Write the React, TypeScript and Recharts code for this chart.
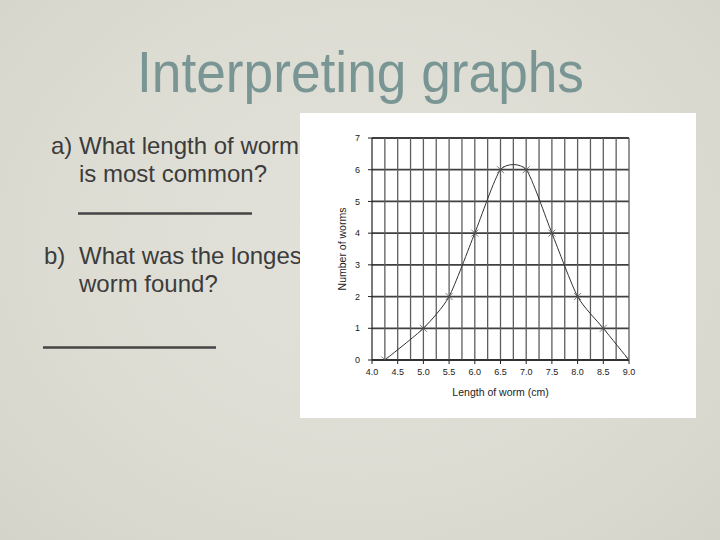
import React from 'react';
import { LineChart, Line, XAxis, YAxis, CartesianGrid, ReferenceLine, Label } from 'recharts';

const lengths = [4.25, 5.0, 5.5, 6.0, 6.5, 7.0, 7.5, 8.0, 8.5, 9.0];
const counts = [0, 1, 2, 4, 6, 6, 4, 2, 1, 0];
const xTicks = [4.0, 4.5, 5.0, 5.5, 6.0, 6.5, 7.0, 7.5, 8.0, 8.5, 9.0];
const yTicks = [0, 1, 2, 3, 4, 5, 6, 7];
const gridX = [4.25, 4.5, 4.75, 5.0, 5.25, 5.5, 5.75, 6.0, 6.25, 6.5, 6.75, 7.0, 7.25, 7.5, 7.75, 8.0, 8.25, 8.5, 8.75, 9.0];

const data = lengths.map((l, i) => ({ length: l, count: counts[i] }));

function makeCardinal(tension: number) {
  const k = (1 - tension) / 6;
  return function (context: any) {
    let pts: number[][] = [];
    return {
      areaStart() {},
      areaEnd() {},
      lineStart() {
        pts = [];
      },
      lineEnd() {
        const n = pts.length;
        if (n === 0) return;
        context.moveTo(pts[0][0], pts[0][1]);
        for (let i = 0; i < n - 1; i++) {
          const p0 = pts[Math.max(i - 1, 0)];
          const p1 = pts[i];
          const p2 = pts[i + 1];
          const p3 = pts[Math.min(i + 2, n - 1)];
          context.bezierCurveTo(
            p1[0] + k * (p2[0] - p0[0]),
            p1[1] + k * (p2[1] - p0[1]),
            p2[0] - k * (p3[0] - p1[0]),
            p2[1] - k * (p3[1] - p1[1]),
            p2[0],
            p2[1]
          );
        }
      },
      point(x: number, y: number) {
        pts.push([+x, +y]);
      },
    };
  };
}

const smoothCurve = makeCardinal(0.35);

const CrossDot = (props: any) => {
  const { cx, cy, index } = props;
  if (cx == null || cy == null) return null;
  const s = 3.5;
  return (
    <g key={`dot-${index}`}>
      <line x1={cx - s} y1={cy - s} x2={cx + s} y2={cy + s} stroke="#555" strokeWidth={0.8} />
      <line x1={cx - s} y1={cy + s} x2={cx + s} y2={cy - s} stroke="#555" strokeWidth={0.8} />
    </g>
  );
};

const FONT = '"Liberation Sans", Arial, Helvetica, sans-serif';
const TEXT = '#3c3c3c';

export default function App() {
  return (
    <div
      style={{
        position: 'absolute',
        left: 0,
        top: 0,
        width: 720,
        height: 540,
        overflow: 'hidden',
        background: 'radial-gradient(ellipse at 50% 45%, #e3e2da 0%, #dddcd3 60%, #d5d4ca 100%)',
        fontFamily: FONT,
      }}
    >
      <svg width={720} height={540} style={{ position: 'absolute', left: 0, top: 0 }}>
        <text
          x={137}
          y={91.5}
          fontSize={57}
          fill="#7a9694"
          fontFamily={FONT}
          textLength={447}
          lengthAdjust="spacingAndGlyphs"
        >
          Interpreting graphs
        </text>
        <g fontFamily={FONT} fontSize={24} fill={TEXT}>
          <text x={51} y={154}>a)</text>
          <text x={79} y={154}>What length of worm</text>
          <text x={79} y={182}>is most common?</text>
          <text x={44} y={264}>b)</text>
          <text x={79} y={264}>What was the longest</text>
          <text x={79} y={292}>worm found?</text>
        </g>
        <line x1={78} y1={213.5} x2={252} y2={213.5} stroke="#454545" strokeWidth={2.5} />
        <line x1={43} y1={347.5} x2={216} y2={347.5} stroke="#454545" strokeWidth={2.5} />
      </svg>
      <div
        style={{
          position: 'absolute',
          left: 300,
          top: 113,
          width: 396,
          height: 305,
          background: '#ffffff',
        }}
      >
        <LineChart width={396} height={305} data={data} margin={{ top: 25, right: 67, bottom: 0, left: 0 }}>
          <CartesianGrid vertical={false} stroke="#404040" strokeWidth={1.8} />
          {gridX.map((gx) => (
            <ReferenceLine key={gx} x={gx} stroke="#5e5e5e" strokeWidth={1.3} />
          ))}
          <XAxis
            type="number"
            dataKey="length"
            domain={[4, 9]}
            ticks={xTicks}
            allowDataOverflow
            tickFormatter={(v: number) => v.toFixed(1)}
            tick={{ fontSize: 9, fill: '#222', fontFamily: FONT }}
            axisLine={{ stroke: '#222', strokeWidth: 1.2 }}
            tickLine={{ stroke: '#222' }}
            tickSize={4}
            tickMargin={5}
            height={58}
          >
            <Label
              content={(p: any) => {
                const vb = p.viewBox || {};
                return (
                  <text
                    x={vb.x + vb.width / 2}
                    y={vb.y + 36}
                    textAnchor="middle"
                    fontSize={10.5}
                    fill="#222"
                    fontFamily={FONT}
                  >
                    Length of worm (cm)
                  </text>
                );
              }}
            />
          </XAxis>
          <YAxis
            type="number"
            domain={[0, 7]}
            ticks={yTicks}
            allowDataOverflow
            tick={{ fontSize: 9, fill: '#222', fontFamily: FONT }}
            axisLine={{ stroke: '#222', strokeWidth: 1.2 }}
            tickLine={{ stroke: '#222' }}
            tickSize={4}
            tickMargin={8}
            width={72}
          >
            <Label
              content={(p: any) => {
                const vb = p.viewBox || {};
                const cx = vb.x + 45.5;
                const cy = vb.y + vb.height / 2;
                return (
                  <text
                    x={cx}
                    y={cy}
                    textAnchor="middle"
                    fontSize={10.5}
                    fill="#222"
                    fontFamily={FONT}
                    transform={`rotate(-90, ${cx}, ${cy})`}
                  >
                    Number of worms
                  </text>
                );
              }}
            />
          </YAxis>
          <Line
            type={smoothCurve as any}
            dataKey="count"
            stroke="#333"
            strokeWidth={1}
            dot={CrossDot}
            activeDot={false}
            isAnimationActive={false}
          />
        </LineChart>
      </div>
    </div>
  );
}
